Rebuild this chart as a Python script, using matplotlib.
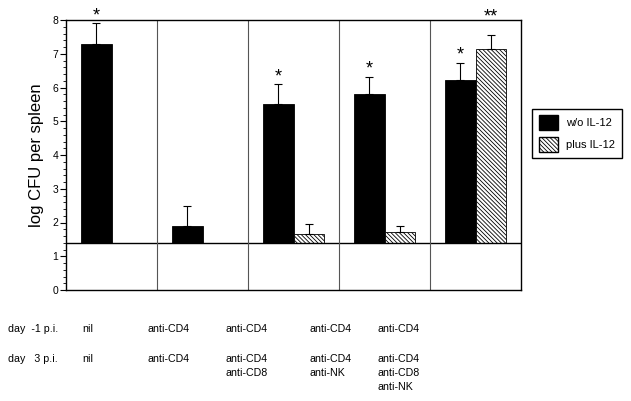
import numpy as np
import matplotlib
matplotlib.use('Agg')
import matplotlib.pyplot as plt
from matplotlib.patches import Patch
from matplotlib.ticker import MultipleLocator

plt.rcParams['font.family'] = ['Liberation Sans', 'DejaVu Sans']
plt.rcParams['hatch.linewidth'] = 0.6
plt.rcParams['hatch.color'] = '#444444'

# data (log CFU per spleen), baseline 1.4 = detection limit
groups = ['nil', 'anti-CD4', 'anti-CD4/CD8', 'anti-CD4/NK', 'anti-CD4/CD8/NK']
wo_il12 = [7.3, 1.9, 5.52, 5.82, 6.23]
wo_err = [0.6, 0.6, 0.58, 0.5, 0.5]
plus_il12 = [np.nan, np.nan, 1.65, 1.73, 7.13]
plus_err = [np.nan, np.nan, 0.3, 0.17, 0.42]
wo_star = ['*', '', '*', '*', '*']
plus_star = ['', '', '', '', '**']
BASE = 1.4

day_m1 = ['nil', 'anti-CD4', 'anti-CD4', 'anti-CD4', 'anti-CD4']
day_3 = ['nil', 'anti-CD4', 'anti-CD4\nanti-CD8', 'anti-CD4\nanti-NK', 'anti-CD4\nanti-CD8\nanti-NK']

W, H = 631, 401
HATCH = '\\' * 8
fig = plt.figure(figsize=(W/100, H/100), dpi=100, facecolor='white')
ax = fig.add_axes([66/W, 1-290/H, 455/W, 270/H])

x = np.arange(len(groups))
w = 0.33
ekw = dict(ecolor='black', elinewidth=0.8, capsize=3, capthick=0.8)
for i in x:
    v = wo_il12[i]
    ax.bar(i - w/2, v - BASE, w, bottom=BASE, color='black', edgecolor='black', lw=0.6)
    ax.errorbar(i - w/2, v, yerr=[[0], [wo_err[i]]], fmt='none', **ekw)
    if wo_star[i]:
        ax.text(i - w/2, v + wo_err[i] + 0.22, wo_star[i], ha='center', va='center',
                fontsize=13, clip_on=False)
    p = plus_il12[i]
    if not np.isnan(p):
        ax.bar(i + w/2, p - BASE, w, bottom=BASE, color='white', edgecolor='black',
               hatch=HATCH, lw=0.6)
        ax.errorbar(i + w/2, p, yerr=[[0], [plus_err[i]]], fmt='none', **ekw)
        if plus_star[i]:
            ax.text(i + w/2, p + plus_err[i] + 0.55, plus_star[i], ha='center', va='center',
                    fontsize=13, clip_on=False)

ax.axhline(BASE, color='black', lw=1)
for s in x[1:]:
    ax.axvline(s - 0.5, color='#555555', lw=0.8)

ax.set_xlim(-0.5, len(groups) - 0.5)
ax.set_ylim(0, 8)
ax.set_xticks([])
ax.yaxis.set_major_locator(MultipleLocator(1))
ax.yaxis.set_minor_locator(MultipleLocator(0.2))
ax.tick_params(axis='y', which='major', length=4, width=0.8, labelsize=7.5, pad=1.5)
ax.tick_params(axis='y', which='minor', length=2, width=0.6)
for sp in ax.spines.values():
    sp.set_linewidth(1)
ax.set_ylabel('log CFU per spleen', fontsize=12, labelpad=6)

handles = [Patch(facecolor='black', edgecolor='black', label='w/o IL-12'),
           Patch(facecolor='white', edgecolor='black', hatch=HATCH, label='plus IL-12')]
leg = fig.legend(handles=handles, loc='center', bbox_to_anchor=(577/W, 1-133.5/H),
                 fontsize=8, handlelength=1.7, handleheight=1.6, handletextpad=0.8,
                 labelspacing=0.7, borderpad=0.6, fancybox=False, framealpha=1)
leg.get_frame().set_edgecolor('black')
leg.get_frame().set_linewidth(1)

# treatment schedule below the axis
fs = 7.7
fig.text(8/W, 1-329/H, 'day  -1 p.i.', fontsize=fs, va='center')
fig.text(8/W, 1-359/H, 'day   3 p.i.', fontsize=fs, va='center')
col_x = [82, 148, 226, 310, 377]
for cx, a, b in zip(col_x, day_m1, day_3):
    fig.text(cx/W, 1-329/H, a, fontsize=fs, va='center')
    for k, line in enumerate(b.split('\n')):
        fig.text(cx/W, 1-(359 + 14*k)/H, line, fontsize=fs, va='center')

fig.savefig('out.png', dpi=100)
